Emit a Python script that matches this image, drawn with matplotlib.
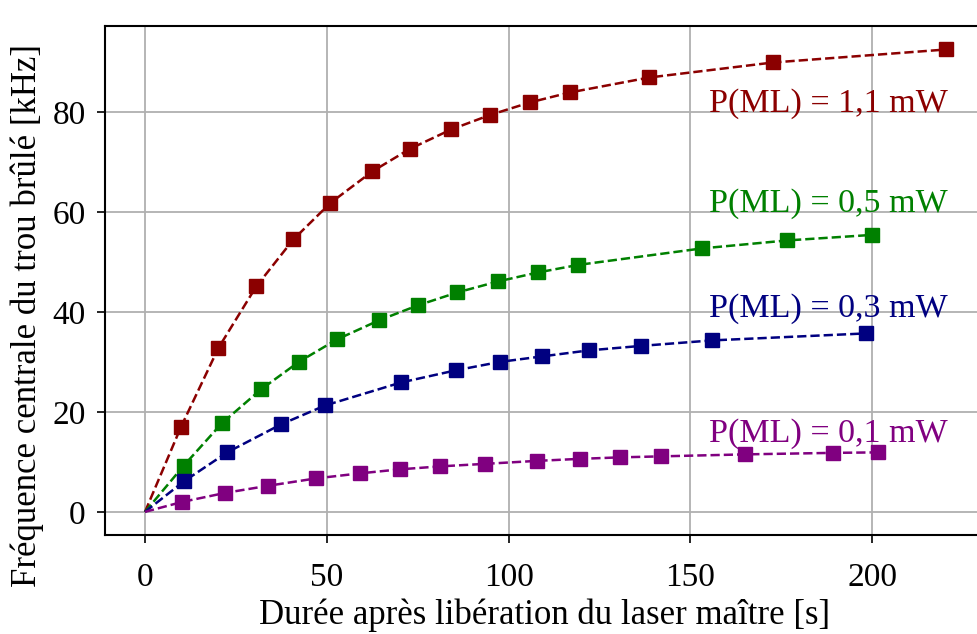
import numpy as np
from matplotlib import pyplot as plt

plt.rcParams['font.family'] = ['Liberation Serif', 'DejaVu Serif']
plt.rcParams['font.size'] = 24

t_11 = [0, 9.9, 20.2, 30.6, 40.8, 51.0, 62.5, 72.8, 84.2, 94.9, 105.8, 116.8, 138.7, 172.7, 220.3]
f_11 = [0, 17.0, 32.8, 45.1, 54.5, 61.8, 68.1, 72.6, 76.5, 79.4, 81.9, 83.9, 86.9, 89.9, 92.5]

t_05 = [0, 10.6, 21.1, 31.9, 42.3, 52.8, 64.3, 75.0, 85.9, 97.1, 108.1, 119.1, 153.1, 176.6, 199.8]
f_05 = [0, 9.2, 17.7, 24.5, 30.0, 34.5, 38.3, 41.3, 43.9, 46.1, 47.9, 49.4, 52.7, 54.3, 55.4]

t_03 = [0, 10.7, 22.6, 37.4, 49.6, 70.5, 85.4, 97.6, 109.2, 122.0, 136.4, 155.9, 198.3]
f_03 = [0, 6.1, 11.9, 17.5, 21.3, 25.9, 28.3, 30.0, 31.1, 32.3, 33.2, 34.3, 35.7]

t_01 = [0, 10.3, 22.1, 33.7, 47.1, 59.1, 70.0, 81.2, 93.4, 107.8, 119.5, 130.5, 141.8, 165.0, 189.1, 201.6]
f_01 = [0, 2.0, 3.8, 5.2, 6.7, 7.7, 8.5, 9.1, 9.6, 10.2, 10.6, 10.9, 11.1, 11.5, 11.8, 11.9]

labels = ["P(ML) = 1,1 mW", "P(ML) = 0,5 mW", "P(ML) = 0,3 mW", "P(ML) = 0,1 mW"]
label_y = [80, 60, 39, 14]
colors = ["#8b0000", "#008000", "#000080", "#800080"]

# %% Plot
fig = plt.figure(figsize=(9.78, 6.34), dpi=100)
ax = fig.add_axes([105 / 978, 99 / 634, 880 / 978, 509 / 634])

series = [(t_11, f_11), (t_05, f_05), (t_03, f_03), (t_01, f_01)]
for (t, f), c, lab, ly in zip(series, colors, labels, label_y):
    # Ursprung ohne Marker
    ax.plot(t, f, "s--", color=c, markersize=9.5, linewidth=1.8, markevery=slice(1, None))
    ax.text(155, ly, lab, color=c, va="baseline", ha="left", fontsize=24.5)

ax.set_xlim(-11, 231)
ax.set_ylim(-4.63, 97.2)
ax.set_xticks([0, 50, 100, 150, 200])
ax.set_yticks([0, 20, 40, 60, 80])
ax.grid(True, color="#b0b0b0", linewidth=1.3)
ax.set_axisbelow(True)
ax.tick_params(length=6, width=1.2)
ax.tick_params(axis="x", pad=14)
ax.tick_params(axis="y", pad=8)
for s in ax.spines.values():
    s.set_linewidth(1.5)

ax.set_xlabel("Durée après libération du laser maître [s]", fontsize=25)
ax.set_ylabel("Fréquence centrale du trou brûlé [kHz]", fontsize=25)
ax.yaxis.set_label_coords(-0.069, 0.432)

fig.savefig("out.png", dpi=100)
